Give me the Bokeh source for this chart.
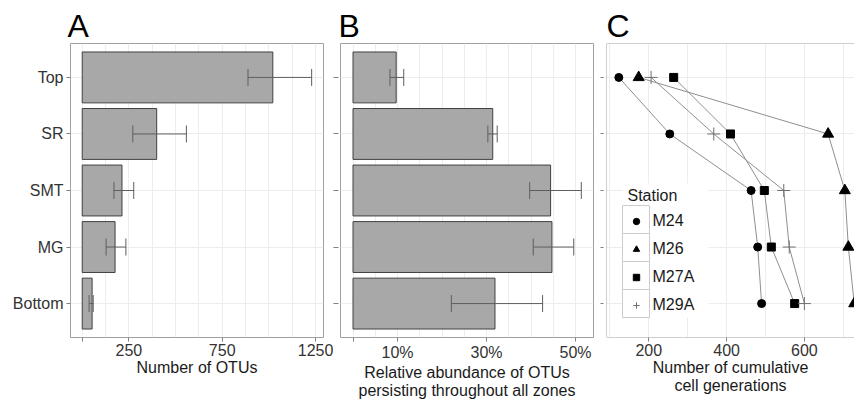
from bokeh.plotting import figure
from bokeh.layouts import row
from bokeh.models import (Range1d, FixedTicker, Legend, LegendItem,
                          Span, Whisker, TeeHead, ColumnDataSource)
from bokeh.embed import file_html
from bokeh.resources import INLINE

# ---------------- data ----------------
zones = ["Top", "SR", "SMT", "MG", "Bottom"]

otus = [1021, 399, 213, 176, 53]
otus_low = [888, 271, 170, 128, 37]
otus_high = [1229, 558, 276, 234, 59]

persist_pct = [9.7, 31.4, 44.4, 44.7, 31.9]
persist_low = [8.3, 30.3, 39.7, 40.5, 22.1]
persist_high = [11.4, 32.4, 51.3, 49.6, 42.6]

stations = ["M24", "M26", "M27A", "M29A"]
gen_M24 = [123, 254, 463, 480, 490]
gen_M26 = [174, 661, 704, 713, 728]
gen_M27A = [264, 410, 497, 515, 575]
gen_M29A = [206, 367, 547, 561, 600]

otu_ticks = [0, 250, 750, 1250]
otu_tick_labels = ["", "250", "750", "1250"]
pct_ticks = [0, 10, 30, 50]
pct_tick_labels = ["", "10%", "30%", "50%"]
gen_ticks = [200, 400, 600]
gen_tick_labels = ["200", "400", "600"]

# ---------------- styling ----------------
FONT = "Liberation Sans"
BORDER = "#A0A0A0"
GRID = "#EDEDED"
TICK = "#7F7F7F"
BAR_FILL = "#A8A8A8"
BAR_LINE = "#404040"
ERR = "#5E5E5E"
TXT = "#333333"
TITLE_TXT = "#1A1A1A"

ypos = [len(zones) - 1 - i for i in range(len(zones))]
Y0, Y1 = -0.6, len(zones) - 1 + 0.6
H = 403
TOP, BOTTOM = 43, 66
FRAME_H = H - TOP - BOTTOM


def make_fig(width, left, right, xr, letter, letter_offset):
    p = figure(width=width, height=H, x_range=Range1d(*xr), y_range=Range1d(Y0, Y1),
               output_backend="svg", toolbar_location=None,
               min_border_left=left, min_border_right=right,
               min_border_top=TOP, min_border_bottom=BOTTOM, title=letter)
    p.title.text_font = FONT
    p.title.text_font_size = "32px"
    p.title.text_font_style = "normal"
    p.title.text_color = "black"
    p.title.align = "left"
    p.title.offset = letter_offset
    p.title.standoff = 0
    p.background_fill_color = "white"
    p.border_fill_color = "white"
    p.outline_line_color = BORDER
    p.outline_line_width = 1
    for ax in (p.xaxis, p.yaxis):
        ax.axis_line_color = None
        ax.major_tick_line_color = TICK
        ax.minor_tick_line_color = None
        ax.major_tick_in = 0
        ax.major_tick_out = 4
        ax.major_label_text_font = FONT
        ax.major_label_text_font_size = "16px"
        ax.major_label_text_color = TXT
        ax.axis_label_text_font = FONT
        ax.axis_label_text_font_size = "16px"
        ax.axis_label_text_font_style = "normal"
        ax.axis_label_text_color = TITLE_TXT
        ax.axis_label_text_line_height = 1.1
    p.xaxis.major_label_standoff = 2
    p.xaxis.axis_label_standoff = 0
    p.yaxis.ticker = FixedTicker(ticks=ypos)
    p.ygrid.ticker = FixedTicker(ticks=ypos)
    p.xgrid.grid_line_color = GRID
    p.ygrid.grid_line_color = GRID
    return p


def error_bars(p, src):
    p.add_layout(Whisker(source=src, base="y", lower="lo", upper="hi", dimension="width",
                         level="overlay", line_color=ERR, line_width=1,
                         upper_head=TeeHead(size=17, line_color=ERR, line_width=1),
                         lower_head=TeeHead(size=17, line_color=ERR, line_width=1)))


# ---------------- panel A ----------------
A_range = (-62.7, 1292.5)
pA = make_fig(333, 70, 10, A_range, "A", -3)
srcA = ColumnDataSource(dict(y=ypos, v=otus, lo=otus_low, hi=otus_high))
pA.hbar(y="y", left=0, right="v", height=0.9, fill_color=BAR_FILL, line_color=BAR_LINE,
        line_width=1, source=srcA)
error_bars(pA, srcA)
pA.xaxis.ticker = FixedTicker(ticks=otu_ticks)
pA.xaxis.major_label_overrides = dict(zip(otu_ticks, otu_tick_labels))
pA.xgrid.ticker = FixedTicker(ticks=list(range(0, 1251, 125)))
pA.yaxis.major_label_overrides = dict(zip(ypos, zones))
pA.yaxis.major_label_standoff = 3
pA.xaxis.axis_label = "Number of OTUs"

# ---------------- panel B ----------------
B_range = (-2.81, 54.04)
pB = make_fig(265, 7, 5, B_range, "B", -2)
srcB = ColumnDataSource(dict(y=ypos, v=persist_pct, lo=persist_low, hi=persist_high))
pB.hbar(y="y", left=0, right="v", height=0.9, fill_color=BAR_FILL, line_color=BAR_LINE,
        line_width=1, source=srcB)
error_bars(pB, srcB)
pB.xaxis.ticker = FixedTicker(ticks=pct_ticks)
pB.xaxis.major_label_overrides = dict(zip(pct_ticks, pct_tick_labels))
pB.xgrid.ticker = FixedTicker(ticks=list(range(0, 51, 5)))
pB.yaxis.major_label_text_font_size = "0px"
pB.yaxis.major_label_standoff = 0
pB.yaxis.major_tick_out = 7
pB.yaxis.major_tick_in = -2
pB.xaxis.axis_label = "Relative abundance of OTUs\npersisting throughout all zones"

# ---------------- panel C ----------------
C_range = (91.3, 728.8)
C_W = 248
pC = make_fig(256, 8, 0, C_range, "C", 0)
pC.outline_line_color = None
for loc, dim in ((C_range[0], "height"), (Y0, "width"), (Y1, "width")):
    pC.add_layout(Span(location=loc, dimension=dim, line_color=BORDER, line_width=1))

series = [gen_M24, gen_M26, gen_M27A, gen_M29A]
markers = ["circle", "triangle", "square", "cross"]
sizes = [8, 11, 8, 13]
mcolors = ["black", "black", "black", "#6E6E6E"]
for s in series:
    pC.line(x=s, y=ypos, line_color="#8F8F8F", line_width=1)
rends = []
for s, m, sz, c in zip(series, markers, sizes, mcolors):
    r = pC.scatter(x=s, y=ypos, marker=m, size=sz, fill_color=c, line_color=c, line_width=1)
    rends.append(r)

pC.xaxis.ticker = FixedTicker(ticks=gen_ticks)
pC.xaxis.major_label_overrides = dict(zip(gen_ticks, gen_tick_labels))
pC.xgrid.ticker = FixedTicker(ticks=list(range(100, 701, 100)))
pC.yaxis.major_label_text_font_size = "0px"
pC.yaxis.major_label_standoff = 0
pC.yaxis.major_tick_out = 6
pC.yaxis.major_tick_in = -3
pC.xaxis.axis_label = "Number of cumulative\ncell generations"


# legend geometry (pixels from the frame's bottom-left corner)
def cx(px_from_left):
    return C_range[0] + px_from_left / C_W * (C_range[1] - C_range[0])


def cy(px_from_bottom):
    return Y0 + px_from_bottom / FRAME_H * (Y1 - Y0)


BOX_LEFT, LEG_BOTTOM, ROW_H, BOX_W = 16, 20, 28, 27
GLYPH_W = 16
LEG_W, TITLE_H = 86, 22
n = len(stations)

# white legend background (covers grid lines) and key boxes
pC.quad(left=[cx(BOX_LEFT)], right=[cx(BOX_LEFT + LEG_W)],
        bottom=[cy(LEG_BOTTOM)], top=[cy(LEG_BOTTOM + n * ROW_H + TITLE_H)],
        fill_color="white", line_color=None)
key_bottom = [cy(LEG_BOTTOM + (n - 1 - i) * ROW_H) for i in range(n)]
key_top = [cy(LEG_BOTTOM + (n - i) * ROW_H) for i in range(n)]
pC.quad(left=[cx(BOX_LEFT)] * n, right=[cx(BOX_LEFT + BOX_W)] * n,
        bottom=key_bottom, top=key_top,
        fill_color="white", line_color="#CCCCCC", line_width=1)

leg_left = BOX_LEFT + (BOX_W - GLYPH_W) / 2
legend = Legend(items=[LegendItem(label=st, renderers=[r]) for st, r in zip(stations, rends)],
                title="Station", location=(leg_left, LEG_BOTTOM - 2), orientation="vertical",
                padding=0, margin=0, spacing=0, glyph_width=GLYPH_W, glyph_height=ROW_H,
                label_height=ROW_H, label_standoff=int(BOX_LEFT + BOX_W + 4 - leg_left - GLYPH_W),
                label_text_font=FONT, label_text_font_size="16px", label_text_color=TITLE_TXT,
                title_text_font=FONT, title_text_font_size="16px", title_text_font_style="normal",
                title_text_color=TITLE_TXT, title_standoff=2,
                border_line_color=None, background_fill_alpha=0)
pC.add_layout(legend)

layout = row(pA, pB, pC, spacing=0)
open("out.html", "w").write(file_html(layout, INLINE))
